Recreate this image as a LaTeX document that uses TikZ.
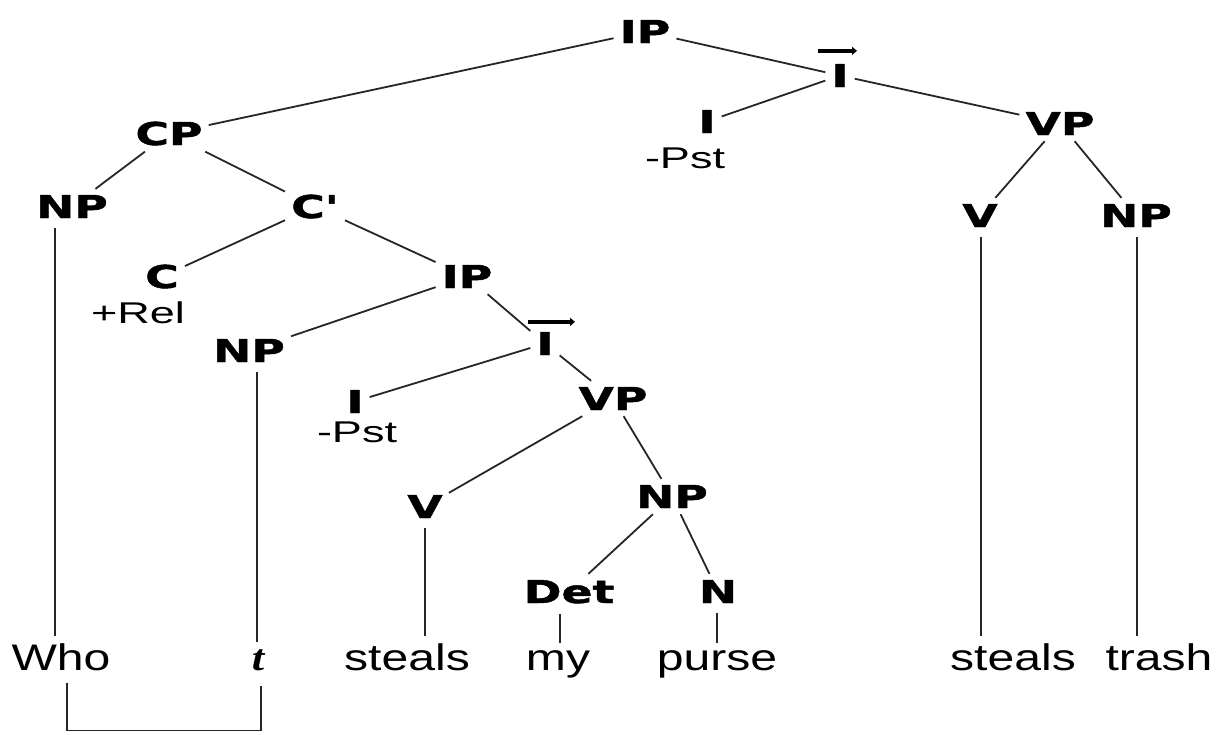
\documentclass[tikz,border=0pt]{standalone}
\usepackage{fontspec}
\usetikzlibrary{arrows.meta}
\newfontfamily\labfont{DejaVu Sans}[FakeStretch=1.45,FakeBold=1.5]
\newfontfamily\wordfont{Liberation Sans}[FakeStretch=1.3]
\newfontfamily\notefont{Liberation Sans}[FakeStretch=1.5]
\newfontfamily\tracefont{Liberation Serif}[FakeStretch=1.2]
\begin{document}
\begin{tikzpicture}[x=1pt,y=-1pt,
  lab/.style={font=\labfont\bfseries\fontsize{31.5}{34}\selectfont, inner sep=6pt, anchor=base},
  word/.style={font=\wordfont\fontsize{37}{40}\selectfont, inner sep=3pt, anchor=base},
  note/.style={font=\notefont\fontsize{30}{32}\selectfont, inner sep=2pt, anchor=base},
  trace/.style={font=\tracefont\bfseries\itshape\fontsize{37}{40}\selectfont, inner sep=3pt, anchor=base},
  edge/.style={line width=1.8pt, draw=black!85},
  vline/.style={edge, shorten <=4pt, shorten >=4pt},
  barline/.style={line width=3.8pt, draw=black, -{Triangle[length=5pt,width=8pt]}}
]
\useasboundingbox[fill=white] (0,0) rectangle (1222,734);

% labels
\node[lab] (ip) at (645,43) {IP};
\node[lab] (ib) at (840,87) {I};
\node[lab] (i) at (707,133) {I};
\node[note] (pst) at (685,168) {-Pst};
\node[lab] (vp) at (1060,135) {VP};
\node[lab] (v) at (980,227) {V};
\node[lab] (np) at (1136,227) {NP};
\node[lab] (cp) at (169,145) {CP};
\node[lab] (npa) at (72,218) {NP};
\node[lab] (cbar) at (315,218) {C'};
\node[lab] (c) at (162,288) {C};
\node[note] (rel) at (138,323) {+Rel};
\node[lab] (ip2) at (467,288) {IP};
\node[lab] (np2) at (249,362) {NP};
\node[lab] (ib2) at (545,355) {I};
\node[lab] (i2) at (355,413) {I};
\node[note] (pst2) at (357,442) {-Pst};
\node[lab] (vp2) at (613,410) {VP};
\node[lab] (v2) at (425,518) {V};
\node[lab] (np3) at (672,508) {NP};
\node[lab] (det) at (569,603) {Det};
\node[lab] (n) at (718,603) {N};

% words
\node[word] (who) at (61,670) {Who};
\node[trace] (t) at (258,670) {t};
\node[word] (steals) at (407,670) {steals};
\node[word] (my) at (558,670) {my};
\node[word] (purse) at (717,670) {purse};
\node[word] (steals2) at (1013,670) {steals};
\node[word] (trash) at (1159,670) {trash};

% bars over I
\draw[barline] ([xshift=-22pt,yshift=7pt]ib.north) -- ([xshift=17pt,yshift=7pt]ib.north);
\draw[barline] ([xshift=-17pt,yshift=4pt]ib2.north) -- ([xshift=30pt,yshift=4pt]ib2.north);

% branches
\draw[edge] (ip) -- (cp);
\draw[edge] (ip) -- (ib);
\draw[edge] (ib) -- (i);
\draw[edge] (ib) -- (vp);
\draw[edge] (vp) -- (v);
\draw[edge] (vp) -- (np);
\draw[edge] (cp) -- (npa);
\draw[edge] (cp) -- (cbar);
\draw[edge] (cbar) -- (c);
\draw[edge] (cbar) -- (ip2);
\draw[edge] (ip2) -- (np2);
\draw[edge] (ip2) -- (ib2);
\draw[edge] (ib2) -- (i2);
\draw[edge] (ib2) -- (vp2);
\draw[edge] (vp2) -- (v2);
\draw[edge] (vp2) -- (np3);
\draw[edge] (np3) -- (det);
\draw[edge] (np3) -- (n);

% vertical lines to words
\draw[vline] ([xshift=-17pt]npa.south) -- ([xshift=-6pt]who.north);
\draw[vline] ([xshift=8pt]np2.south) -- ([xshift=-1pt]t.north);
\draw[vline] (v2.south) -- ([xshift=18pt]steals.north);
\draw[vline] ([xshift=-9pt]det.south) -- ([xshift=2pt]my.north);
\draw[vline] ([xshift=-1pt]n.south) -- (purse.north);
\draw[vline] ([xshift=1pt]v.south) -- ([xshift=-32pt]steals2.north);
\draw[vline] ([xshift=1pt]np.south) -- ([xshift=-22pt]trash.north);

% trace link
\draw[edge] ([xshift=6pt,yshift=-9pt]who.south) |- ([xshift=3pt,yshift=-57pt]t.south) -- ([xshift=3pt,yshift=-12pt]t.south);
\end{tikzpicture}
\end{document}
